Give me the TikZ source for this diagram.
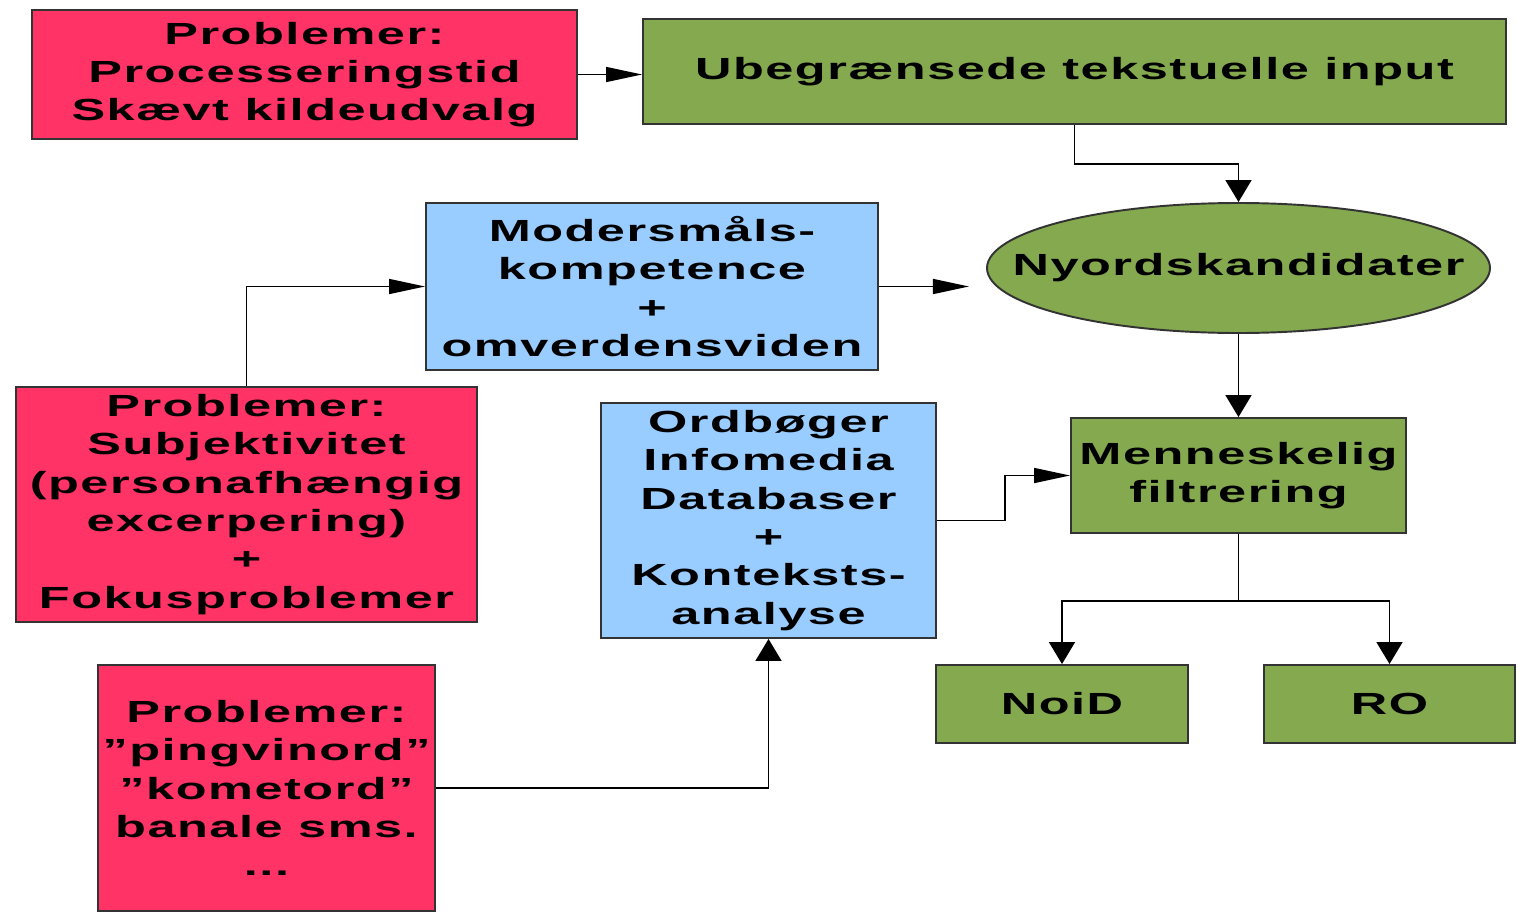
\documentclass[tikz,border=0pt]{standalone}
\usepackage{fontspec}
\newfontfamily\boksfont[FakeStretch=1.65,LetterSpace=5]{Liberation Sans}
\usetikzlibrary{shapes.geometric,arrows.meta}
\definecolor{problemrod}{HTML}{FF3366}
\definecolor{resultatgron}{HTML}{84A94E}
\definecolor{videnbla}{HTML}{99CCFF}
\definecolor{kant}{HTML}{333333}

\begin{document}
\begin{tikzpicture}[
  boks/.style={draw=kant,line width=0.55pt,align=center,inner sep=0pt,
    font=\fontsize{8.7}{10.9}\selectfont\boksfont\bfseries},
  problem/.style={boks,fill=problemrod},
  viden/.style={boks,fill=videnbla},
  resultat/.style={boks,fill=resultatgron},
  forbind/.style={line width=0.45pt},
  hpil/.style={forbind,-{Triangle[length=0.36cm,width=0.15cm]}},
  vpil/.style={forbind,-{Triangle[length=0.22cm,width=0.26cm]}}
]
  % Ramme
  \useasboundingbox (0,0) rectangle (15.18,-9.15);

  % Problemer (rode bokse)
  \node[problem,minimum width=5.45cm,minimum height=1.29cm] (prob1) at (3.045,-0.745)
    {Problemer:\\Processeringstid\\Skævt kildeudvalg};
  \node[problem,minimum width=4.61cm,minimum height=2.35cm] (prob2) at (2.465,-5.045)
    {Problemer:\\Subjektivitet\\(personafhængig\\excerpering)\\+\\Fokusproblemer};
  \node[problem,minimum width=3.37cm,minimum height=2.46cm] (prob3) at (2.665,-7.88)
    {Problemer:\\”pingvinord”\\”kometord”\\banale sms.\\...};

  % Viden og vaerktojer (blaa bokse)
  \node[viden,minimum width=4.52cm,minimum height=1.67cm] (moder) at (6.52,-2.865)
    {Modersmåls-\\kompetence\\+\\omverdensviden};
  \node[viden,minimum width=3.35cm,minimum height=2.35cm] (ordbog) at (7.685,-5.205)
    {Ordbøger\\Infomedia\\Databaser\\+\\Konteksts-\\analyse};

  % Forlob (gronne bokse)
  \node[resultat,minimum width=8.63cm,minimum height=1.05cm] (input) at (10.745,-0.715)
    {Ubegrænsede tekstuelle input};
  \node[resultat,ellipse,minimum width=5.03cm,minimum height=1.30cm] (kand) at (12.385,-2.68)
    {\makebox[0pt]{Nyordskandidater}};
  \node[resultat,minimum width=3.35cm,minimum height=1.15cm] (filter) at (12.385,-4.755)
    {Menneskelig\\filtrering};
  \node[resultat,minimum width=2.52cm,minimum height=0.78cm] (noid) at (10.62,-7.04) {NoiD};
  \node[resultat,minimum width=2.51cm,minimum height=0.78cm] (ro) at (13.895,-7.04) {RO};

  % Forbindelser
  \draw[hpil] (prob1.east) -- (prob1.east -| input.west);
  \draw[vpil] (input.south) -- ++(0,-0.39) -| (kand.north);
  \draw[hpil] (prob2.north) |- (moder.west);
  \coordinate (kandpil) at ([xshift=0.9cm]moder.east);
  \draw[hpil] (moder.east) -- (kandpil);
  \draw[vpil] (kand.south) -- (filter.north);
  \draw[hpil] (ordbog.east) -- ++(0.68,0) |- (filter.west);
  \draw[vpil] (filter.south) -- ++(0,-0.67) -| (noid.north);
  \draw[vpil] (filter.south) -- ++(0,-0.67) -| (ro.north);
  \draw[vpil] (prob3.east) -| (ordbog.south);
\end{tikzpicture}
\end{document}
